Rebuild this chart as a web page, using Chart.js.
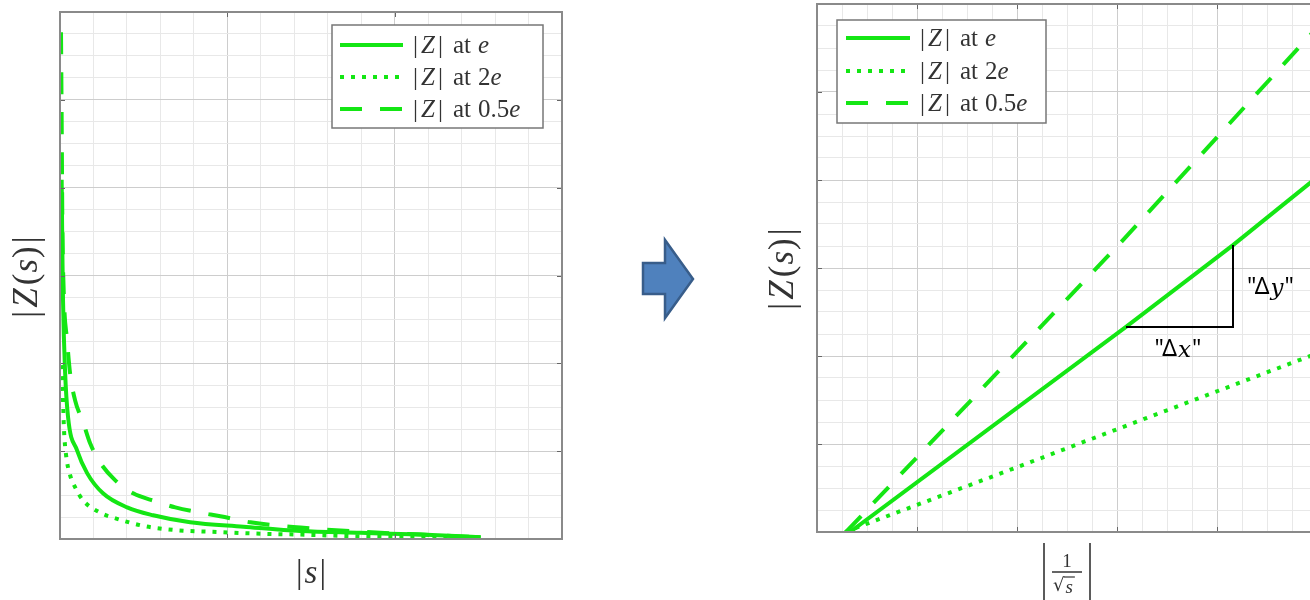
<!DOCTYPE html>
<html>
<head>
<meta charset="utf-8">
<script src="https://cdn.jsdelivr.net/npm/chart.js@4/dist/chart.umd.min.js"></script>
<style>
  html, body { margin: 0; padding: 0; background: #fff; width: 1310px; height: 600px; overflow: hidden; }
  #left  { position: absolute; left: 0; top: 0; }
  #right { position: absolute; left: 700px; top: 0; }
  #arrow { position: absolute; left: 630px; top: 230px; }
</style>
</head>
<body>
<canvas id="left" width="600" height="600"></canvas>
<svg id="arrow" width="80" height="100" viewBox="630 230 80 100">
  <polygon points="643,263 665,263 665,240 693,279 665,318 665,294 643,294"
           fill="#4f81bd" stroke="#385d8a" stroke-width="2.5"/>
</svg>
<canvas id="right" width="700" height="600"></canvas>
<script>
// ---- |Z| against |s| ----
const magS_e    = [0.010, 0.014, 0.018, 0.030, 0.048, 0.102, 0.162, 0.257, 0.401, 0.557, 0.778, 1.096, 1.437, 1.796, 2.156, 2.515];
const magZ_e    = [4.09, 3.29, 2.72, 1.92, 1.39, 1.01, 0.75, 0.52, 0.36, 0.27, 0.19, 0.14, 0.09, 0.07, 0.05, 0.02];

const magS_2e   = [0.010, 0.018, 0.024, 0.036, 0.060, 0.090, 0.138, 0.240, 0.341, 0.497, 0.701, 0.940, 1.198, 1.437, 1.796, 2.156, 2.515];
const magZ_2e   = [1.98, 1.58, 1.24, 0.96, 0.73, 0.59, 0.44, 0.30, 0.23, 0.15, 0.10, 0.08, 0.06, 0.05, 0.03, 0.02, 0.02];

const magS_05e  = [0.006, 0.010, 0.014, 0.024, 0.042, 0.060, 0.090, 0.138, 0.180, 0.240, 0.329, 0.437, 0.569, 0.689, 0.838, 0.958, 1.138, 1.437, 1.737, 2.156, 2.515];
const magZ_05e  = [5.77, 4.77, 3.63, 2.72, 2.27, 1.89, 1.58, 1.33, 1.09, 0.87, 0.67, 0.52, 0.43, 0.36, 0.30, 0.26, 0.19, 0.13, 0.09, 0.05, 0.02];

// ---- |Z| against |1/sqrt(s)| ----
const invRootS_e   = [0.33, 3.09, 4.16, 5.00];
const linZ_e       = [0, 2.33, 3.26, 4.03];
const invRootS_2e  = [0.28, 1.80, 5.00];
const linZ_2e      = [0, 0.65, 2.03];
const invRootS_05e = [0.29, 3.03, 5.00];
const linZ_05e     = [0, 3.28, 5.73];

// slope triangle drawn on the |Z| at e line
const runX  = [3.09, 4.16];
const riseY = [2.33, 3.26];

// legend factors and axis extents
const seriesFactors = ['e', '2e', '0.5e'];
const leftXMax = 3, leftYMax = 6, rightXMax = 5, rightYMax = 6;

const GREEN = '#14e614';
const SERIF = "'Liberation Serif', 'DejaVu Serif', serif";
const TEXT  = '#333333';

const styles = [
  { borderDash: [] },          // e
  { borderDash: [4, 7] },      // 2e
  { borderDash: [22, 18] }     // 0.5e
];

const pts = (xs, ys) => xs.map((x, i) => ({ x, y: ys[i] }));

function mathRun(ctx, parts, x, y, size) {
  let cx = x;
  for (const [t, it, gap] of parts) {
    ctx.font = (it ? 'italic ' : '') + size + 'px ' + SERIF;
    ctx.fillText(t, cx, y);
    cx += ctx.measureText(t).width + (gap || 0);
  }
  return cx - x;
}
function runWidth(ctx, parts, size) {
  let w = 0;
  for (const [t, it, gap] of parts) {
    ctx.font = (it ? 'italic ' : '') + size + 'px ' + SERIF;
    w += ctx.measureText(t).width + (gap || 0);
  }
  return w;
}
function legendParts(factor) {
  const num = factor.replace(/e$/, '');
  const parts = [['|', 0, 3], ['Z', 1, 3], ['|', 0, 10], ['at', 0, 7]];
  if (num) parts.push([num, 0, 0]);
  parts.push(['e', 1, 0]);
  return parts;
}
const zsParts = [['|', 0, 3], ['Z', 1, 3], ['(', 0, 1], ['s', 1, 1], [')', 0, 3], ['|', 0, 0]];

const isMajor = v => Math.abs(v - Math.round(v)) < 1e-6;

function makeAxesPlugin(cfg) {
  return {
    id: 'axesBox_' + cfg.name,
    afterDatasetsDraw(chart) {
      const { ctx, chartArea: a, scales: { x, y } } = chart;
      ctx.save();
      // inward major tick marks on all four sides
      ctx.strokeStyle = '#666';
      ctx.lineWidth = 1;
      ctx.beginPath();
      for (const t of x.ticks) {
        if (!isMajor(t.value)) continue;
        const px = Math.round(x.getPixelForValue(t.value)) + 0.5;
        ctx.moveTo(px, a.bottom); ctx.lineTo(px, a.bottom - 5);
        ctx.moveTo(px, a.top);    ctx.lineTo(px, a.top + 5);
      }
      for (const t of y.ticks) {
        if (!isMajor(t.value)) continue;
        const py = Math.round(y.getPixelForValue(t.value)) + 0.5;
        ctx.moveTo(a.left, py);  ctx.lineTo(a.left + 5, py);
        ctx.moveTo(a.right, py); ctx.lineTo(a.right - 5, py);
      }
      ctx.stroke();
      // box
      ctx.strokeStyle = '#8a8a8a';
      ctx.lineWidth = 2;
      ctx.strokeRect(a.left, a.top, a.width, a.height);

      // slope triangle
      if (cfg.triangle) {
        const x0 = x.getPixelForValue(runX[0]), x1 = x.getPixelForValue(runX[1]);
        const y0 = y.getPixelForValue(riseY[0]), y1 = y.getPixelForValue(riseY[1]);
        ctx.strokeStyle = '#000';
        ctx.lineWidth = 2;
        ctx.beginPath();
        ctx.moveTo(x0, y0); ctx.lineTo(x1, y0); ctx.lineTo(x1, y1);
        ctx.stroke();
        const delta = (lx, ly, v) => {
          ctx.fillStyle = '#000';
          ctx.textBaseline = 'middle';
          ctx.font = "23px 'Noto Sans', sans-serif";
          let cx = lx;
          ctx.fillText('"\u0394', cx, ly); cx += ctx.measureText('"\u0394').width + 1;
          ctx.font = "italic 23px 'DejaVu Serif', serif";
          ctx.fillText(v, cx, ly + 2); cx += ctx.measureText(v).width + 1;
          ctx.font = "23px 'Noto Sans', sans-serif";
          ctx.fillText('"', cx, ly);
        };
        delta(x1 + 14, (y0 + y1) / 2 + 1, 'y');
        delta((x0 + x1) / 2 - 25, y0 + 22, 'x');
      }

      // legend
      const L = cfg.legend;
      ctx.fillStyle = '#fff';
      ctx.fillRect(L.x, L.y, L.w, L.h);
      ctx.strokeStyle = '#777';
      ctx.lineWidth = 1.5;
      ctx.strokeRect(L.x, L.y, L.w, L.h);
      chart.data.datasets.forEach((ds, i) => {
        const ry = L.y + L.rows[i];
        ctx.save();
        ctx.strokeStyle = ds.borderColor;
        ctx.lineWidth = ds.borderWidth;
        ctx.setLineDash(ds.borderDash || []);
        ctx.beginPath();
        ctx.moveTo(L.x + L.s0, ry);
        ctx.lineTo(L.x + L.s1, ry);
        ctx.stroke();
        ctx.restore();
        ctx.fillStyle = TEXT;
        ctx.textBaseline = 'middle';
        mathRun(ctx, legendParts(seriesFactors[i]), L.x + L.t0, ry + 1, 25);
      });
      ctx.restore();
    },
    afterDraw(chart) {
      const { ctx } = chart;
      ctx.save();
      ctx.fillStyle = TEXT;
      ctx.textBaseline = 'middle';
      // vertical title |Z(s)|
      const w = runWidth(ctx, zsParts, 35);
      ctx.translate(cfg.yTitle.x, cfg.yTitle.y);
      ctx.rotate(-Math.PI / 2);
      mathRun(ctx, zsParts, -w / 2, 0, 35);
      ctx.setTransform(1, 0, 0, 1, 0, 0);
      // horizontal title
      if (cfg.xTitle.kind === 's') {
        const p = [['|', 0, 2], ['s', 1, 2], ['|', 0, 0]];
        const wx = runWidth(ctx, p, 33);
        mathRun(ctx, p, cfg.xTitle.x - wx / 2, cfg.xTitle.y, 33);
      } else {
        const cx = cfg.xTitle.x, cy = cfg.xTitle.y;
        ctx.strokeStyle = TEXT;
        ctx.lineWidth = 1.6;
        ctx.beginPath();
        ctx.moveTo(cx - 23, cy - 27); ctx.lineTo(cx - 23, cy + 32);
        ctx.moveTo(cx + 23, cy - 27); ctx.lineTo(cx + 23, cy + 32);
        // fraction bar
        ctx.moveTo(cx - 15, cy + 2); ctx.lineTo(cx + 15, cy + 2);
        ctx.stroke();
        ctx.textAlign = 'center';
        ctx.font = '19px ' + SERIF;
        ctx.fillText('1', cx, cy - 8);
        ctx.textAlign = 'left';
        ctx.font = "18px 'DejaVu Serif', serif";
        const rw = ctx.measureText('\u221A').width;
        ctx.fillText('\u221A', cx - 14, cy + 16);
        ctx.font = 'italic 19px ' + SERIF;
        const sw = ctx.measureText('s').width;
        ctx.fillText('s', cx - 14 + rw + 1, cy + 18);
        ctx.lineWidth = 1.2;
        ctx.beginPath();
        ctx.moveTo(cx - 14 + rw - 1, cy + 7); ctx.lineTo(cx - 14 + rw + sw + 3, cy + 7);
        ctx.stroke();
      }
      ctx.restore();
    }
  };
}

function datasetsFrom(series, smooth) {
  return series.map((d, i) => ({
    label: '|Z| at ' + seriesFactors[i],
    data: d,
    borderColor: GREEN,
    borderWidth: 4,
    borderDash: styles[i].borderDash,
    borderCapStyle: 'butt',
    pointRadius: 0,
    fill: false,
    tension: 0,
    cubicInterpolationMode: smooth ? 'monotone' : 'default'
  }));
}

function gridScale(max, step) {
  return {
    type: 'linear',
    min: 0,
    max: max,
    ticks: { display: false, stepSize: step, autoSkip: false },
    border: { display: false },
    grid: {
      drawTicks: false,
      lineWidth: 1,
      color: c => isMajor(c.tick.value) ? '#cdcdcd' : '#e8e8e8'
    }
  };
}

function makeChart(id, series, smooth, xMax, xStep, yMax, yStep, padding, cfg) {
  return new Chart(document.getElementById(id), {
    type: 'line',
    data: { datasets: datasetsFrom(series, smooth) },
    options: {
      responsive: false,
      animation: false,
      events: [],
      layout: { padding },
      plugins: { legend: { display: false }, tooltip: { enabled: false } },
      scales: { x: gridScale(xMax, xStep), y: gridScale(yMax, yStep) }
    },
    plugins: [makeAxesPlugin(cfg)]
  });
}

makeChart('left',
  [pts(magS_e, magZ_e), pts(magS_2e, magZ_2e), pts(magS_05e, magZ_05e)],
  true, leftXMax, 0.2, leftYMax, 0.25,
  { left: 60, top: 12, right: 38, bottom: 61 },
  {
    name: 'left',
    legend: { x: 332, y: 25, w: 211, h: 103, rows: [20, 52, 84], s0: 8, s1: 71, t0: 81 },
    yTitle: { x: 28, y: 277 },
    xTitle: { kind: 's', x: 311, y: 574 }
  });

makeChart('right',
  [pts(invRootS_e, linZ_e), pts(invRootS_2e, linZ_2e), pts(invRootS_05e, linZ_05e)],
  false, rightXMax, 0.25, rightYMax, 0.25,
  { left: 117, top: 4, right: 83, bottom: 68 },
  {
    name: 'right',
    legend: { x: 137, y: 20, w: 209, h: 103, rows: [18, 51, 83], s0: 9, s1: 73, t0: 83 },
    yTitle: { x: 84, y: 269 },
    xTitle: { kind: 'frac', x: 367, y: 570 },
    triangle: true
  });
</script>
</body>
</html>
